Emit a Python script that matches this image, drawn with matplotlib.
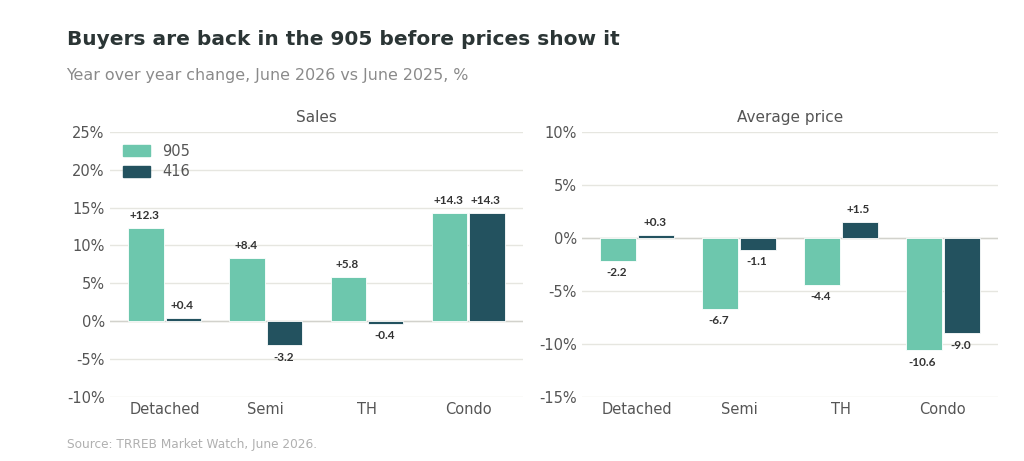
import numpy as np
import matplotlib.pyplot as plt
from matplotlib.patches import Patch

# Data
categories = ['Detached', 'Semi', 'TH', 'Condo']
sales_905 = [12.3, 8.4, 5.8, 14.3]
sales_416 = [0.4, -3.2, -0.4, 14.3]
price_905 = [-2.2, -6.7, -4.4, -10.6]
price_416 = [0.3, -1.1, 1.5, -9.0]

c905 = '#6dc7ad'
c416 = '#23525f'
grid_c = '#e6e6e0'
tick_c = '#555555'

plt.rcParams['font.family'] = ['DejaVu Sans']

fig = plt.figure(figsize=(10.24, 4.61), dpi=100)
ax1 = fig.add_axes([0.107, 0.139, 0.404, 0.575])
ax2 = fig.add_axes([0.568, 0.139, 0.407, 0.575])

x = np.arange(len(categories))
w = 0.35
off = 0.185


def draw(ax, a, b, ylim, ticks, title):
    for vals, col, dx in [(a, c905, -off), (b, c416, off)]:
        bars = ax.bar(x + dx, vals, width=w, color=col, edgecolor='white',
                      linewidth=0.6, zorder=3)
        for bar, v in zip(bars, vals):
            lab = f'{v:+.1f}'
            if v >= 0:
                ax.annotate(lab, (bar.get_x() + bar.get_width() / 2, v), xytext=(-1, 5),
                            textcoords='offset points', ha='center', va='bottom',
                            fontsize=8.5, fontweight='bold', color='#333333', family='Lato')
            else:
                ax.annotate(lab, (bar.get_x() + bar.get_width() / 2, v), xytext=(-1, -4.5),
                            textcoords='offset points', ha='center', va='top',
                            fontsize=8.5, fontweight='bold', color='#333333', family='Lato')
    ax.set_xlim(-0.545, 3.545)
    ax.set_ylim(*ylim)
    ax.set_yticks(ticks)
    ax.set_yticklabels([f'{t}%' for t in ticks])
    ax.set_xticks(x)
    ax.set_xticklabels(categories)
    ax.tick_params(length=0, colors=tick_c, labelsize=10.5)
    ax.tick_params(axis='x', pad=4)
    ax.grid(axis='y', color=grid_c, linewidth=1, zorder=0)
    ax.axhline(0, color='#d2d2cc', linewidth=1, zorder=2)
    for s in ax.spines.values():
        s.set_visible(False)
    ax.set_title(title, fontsize=11, color='#555555', pad=7)


draw(ax1, sales_905, sales_416, (-10, 25), list(range(-10, 26, 5)), 'Sales')
draw(ax2, price_905, price_416, (-15, 10), list(range(-15, 11, 5)), 'Average price')

ax1.legend(handles=[Patch(color=c905, label='905'), Patch(color=c416, label='416')],
           loc='upper left', bbox_to_anchor=(0.0, 1.005), frameon=False,
           fontsize=10.5, labelcolor=tick_c, handlelength=1.9, handleheight=0.75,
           labelspacing=0.4, handletextpad=0.8)

fig.text(0.065, 0.915, 'Buyers are back in the 905 before prices show it',
         fontsize=14.5, fontweight='bold', color='#2b3535', va='center')
fig.text(0.065, 0.837, 'Year over year change, June 2026 vs June 2025, %',
         fontsize=11.4, color='#8a8a8a', va='center')
fig.text(0.065, 0.035, 'Source: TRREB Market Watch, June 2026.',
         fontsize=8.7, color='#b0b0b0', va='center')

fig.savefig('out.png', dpi=100, facecolor='white')
